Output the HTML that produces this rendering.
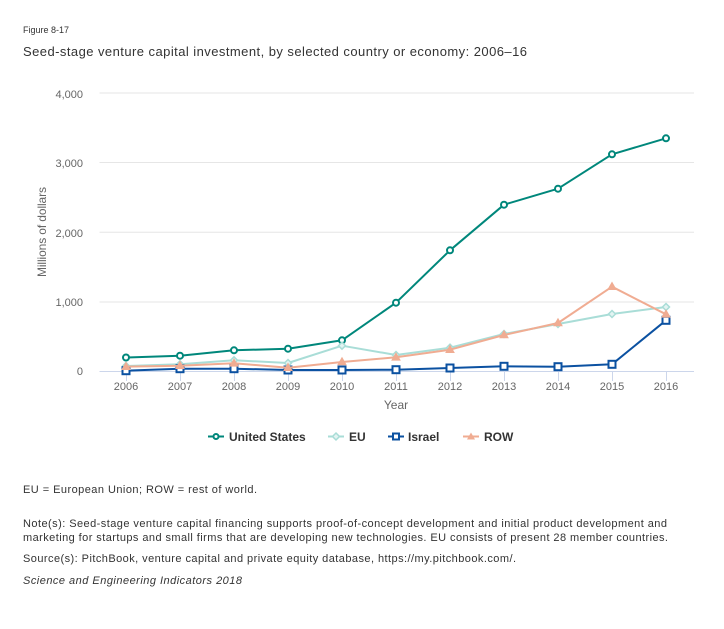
<!DOCTYPE html>
<html><head><meta charset="utf-8"><style>
html,body{margin:0;padding:0;background:#fff;}
svg{display:block;font-family:"Liberation Sans",Arial,sans-serif;}
</style></head><body>
<svg width="724" height="629" viewBox="0 0 724 629" xmlns="http://www.w3.org/2000/svg">
<rect width="724" height="629" fill="#fff"/>
<text x="23" y="33" font-size="9" fill="#333">Figure 8-17</text>
<text x="23" y="56" font-size="13" fill="#333" textLength="504">Seed-stage venture capital investment, by selected country or economy: 2006–16</text>

<!-- grid -->
<g stroke="#e6e6e6" stroke-width="1">
<line x1="99.5" y1="93" x2="694" y2="93"/>
<line x1="99.5" y1="162.5" x2="694" y2="162.5"/>
<line x1="99.5" y1="232.3" x2="694" y2="232.3"/>
<line x1="99.5" y1="302" x2="694" y2="302"/>
</g>
<line x1="99.5" y1="371.5" x2="694" y2="371.5" stroke="#ccd6eb" stroke-width="1"/>
<g stroke="#ccd6eb" stroke-width="1">
<line x1="126.5" y1="371" x2="126.5" y2="381"/>
<line x1="180.5" y1="371" x2="180.5" y2="381"/>
<line x1="234.5" y1="371" x2="234.5" y2="381"/>
<line x1="288.5" y1="371" x2="288.5" y2="381"/>
<line x1="342.5" y1="371" x2="342.5" y2="381"/>
<line x1="396.5" y1="371" x2="396.5" y2="381"/>
<line x1="450.5" y1="371" x2="450.5" y2="381"/>
<line x1="504.5" y1="371" x2="504.5" y2="381"/>
<line x1="558.5" y1="371" x2="558.5" y2="381"/>
<line x1="612.5" y1="371" x2="612.5" y2="381"/>
<line x1="666.5" y1="371" x2="666.5" y2="381"/>
</g>

<!-- y labels -->
<g font-size="11" fill="#666" text-anchor="end">
<text x="83" y="98">4,000</text>
<text x="83" y="167">3,000</text>
<text x="83" y="237">2,000</text>
<text x="83" y="306">1,000</text>
<text x="83" y="375">0</text>
</g>
<text transform="translate(46,232) rotate(-90)" text-anchor="middle" font-size="12" fill="#666" textLength="90">Millions of dollars</text>

<!-- x labels -->
<g font-size="11" fill="#666" text-anchor="middle">
<text x="126" y="390">2006</text>
<text x="180" y="390">2007</text>
<text x="234" y="390">2008</text>
<text x="288" y="390">2009</text>
<text x="342" y="390">2010</text>
<text x="396" y="390">2011</text>
<text x="450" y="390">2012</text>
<text x="504" y="390">2013</text>
<text x="558" y="390">2014</text>
<text x="612" y="390">2015</text>
<text x="666" y="390">2016</text>
</g>
<text x="396" y="409" font-size="12" fill="#666" text-anchor="middle">Year</text>

<!-- US -->
<polyline fill="none" stroke="#00877b" stroke-width="2" stroke-linejoin="round" points="126,357.5 180,355.7 234,350.3 288,348.7 342,340.3 396,302.7 450,250.3 504,204.7 558,188.7 612,154.3 666,138.3"/>
<g fill="#fff" stroke="#00877b" stroke-width="2">
<circle cx="126" cy="357.5" r="3"/><circle cx="180" cy="355.7" r="3"/><circle cx="234" cy="350.3" r="3"/><circle cx="288" cy="348.7" r="3"/><circle cx="342" cy="340.3" r="3"/><circle cx="396" cy="302.7" r="3"/><circle cx="450" cy="250.3" r="3"/><circle cx="504" cy="204.7" r="3"/><circle cx="558" cy="188.7" r="3"/><circle cx="612" cy="154.3" r="3"/><circle cx="666" cy="138.3" r="3"/>
</g>

<!-- EU -->
<polyline fill="none" stroke="#a9ddd7" stroke-width="2" stroke-linejoin="round" points="126,366 180,364.3 234,360.3 288,363 342,345.7 396,355 450,347.7 504,334 558,324 612,314 666,307"/>
<g fill="#e3f4f2" stroke="#a9ddd7" stroke-width="1.5">
<path d="M126,362.5 L129.5,366 L126,369.5 L122.5,366Z"/>
<path d="M180,360.8 L183.5,364.3 L180,367.8 L176.5,364.3Z"/>
<path d="M234,356.8 L237.5,360.3 L234,363.8 L230.5,360.3Z"/>
<path d="M288,359.5 L291.5,363 L288,366.5 L284.5,363Z"/>
<path d="M342,342.2 L345.5,345.7 L342,349.2 L338.5,345.7Z"/>
<path d="M396,351.5 L399.5,355 L396,358.5 L392.5,355Z"/>
<path d="M450,344.2 L453.5,347.7 L450,351.2 L446.5,347.7Z"/>
<path d="M504,330.5 L507.5,334 L504,337.5 L500.5,334Z"/>
<path d="M558,320.5 L561.5,324 L558,327.5 L554.5,324Z"/>
<path d="M612,310.5 L615.5,314 L612,317.5 L608.5,314Z"/>
<path d="M666,303.5 L669.5,307 L666,310.5 L662.5,307Z"/>
</g>

<!-- Israel -->
<polyline fill="none" stroke="#0b51a1" stroke-width="2" stroke-linejoin="round" points="126,370.7 180,368.7 234,368.7 288,370 342,370 396,369.7 450,368 504,366.3 558,366.7 612,364.3 666,320.3"/>
<g fill="#fff" stroke="#0b51a1" stroke-width="2">
<rect x="122.5" y="367.2" width="7" height="7"/><rect x="176.5" y="365.2" width="7" height="7"/><rect x="230.5" y="365.2" width="7" height="7"/><rect x="284.5" y="366.5" width="7" height="7"/><rect x="338.5" y="366.5" width="7" height="7"/><rect x="392.5" y="366.2" width="7" height="7"/><rect x="446.5" y="364.5" width="7" height="7"/><rect x="500.5" y="362.8" width="7" height="7"/><rect x="554.5" y="363.2" width="7" height="7"/><rect x="608.5" y="360.8" width="7" height="7"/><rect x="662.5" y="316.8" width="7" height="7"/>
</g>

<!-- ROW -->
<polyline fill="none" stroke="#f0ac92" stroke-width="2" stroke-linejoin="round" points="126,366.7 180,365.7 234,363.3 288,367.7 342,362 396,357.3 450,349.7 504,335 558,323 612,286.7 666,314.3"/>
<g fill="#f0ac92" stroke="#f0ac92" stroke-width="1">
<path d="M126,362.5 L130,369.5 L122,369.5Z"/>
<path d="M180,361.5 L184,368.5 L176,368.5Z"/>
<path d="M234,359.1 L238,366.1 L230,366.1Z"/>
<path d="M288,363.5 L292,370.5 L284,370.5Z"/>
<path d="M342,357.8 L346,364.8 L338,364.8Z"/>
<path d="M396,353.1 L400,360.1 L392,360.1Z"/>
<path d="M450,345.5 L454,352.5 L446,352.5Z"/>
<path d="M504,330.8 L508,337.8 L500,337.8Z"/>
<path d="M558,318.8 L562,325.8 L554,325.8Z"/>
<path d="M612,282.5 L616,289.5 L608,289.5Z"/>
<path d="M666,310.1 L670,317.1 L662,317.1Z"/>
</g>

<!-- legend -->
<g font-size="12" font-weight="bold" fill="#333">
<line x1="208" y1="436.5" x2="224" y2="436.5" stroke="#00877b" stroke-width="2"/>
<circle cx="216" cy="436.5" r="2.5" fill="#fff" stroke="#00877b" stroke-width="2"/>
<text x="229" y="441">United States</text>
<line x1="328" y1="436.5" x2="344" y2="436.5" stroke="#a9ddd7" stroke-width="2"/>
<path d="M336,433 L339.5,436.5 L336,440 L332.5,436.5Z" fill="#e3f4f2" stroke="#a9ddd7" stroke-width="1.5"/>
<text x="349" y="441">EU</text>
<line x1="388" y1="436.5" x2="404" y2="436.5" stroke="#0b51a1" stroke-width="2"/>
<rect x="393" y="433.5" width="6" height="6" fill="#fff" stroke="#0b51a1" stroke-width="2"/>
<text x="408" y="441">Israel</text>
<line x1="463" y1="436.5" x2="479" y2="436.5" stroke="#f0ac92" stroke-width="2"/>
<path d="M471,432.5 L475,439.5 L467,439.5Z" fill="#f0ac92"/>
<text x="484" y="441">ROW</text>
</g>

<!-- footer -->
<g font-size="11" fill="#333">
<text x="23" y="493" textLength="234">EU = European Union; ROW = rest of world.</text>
<text x="23" y="527" textLength="644">Note(s): Seed-stage venture capital financing supports proof-of-concept development and initial product development and</text>
<text x="23" y="541" textLength="645">marketing for startups and small firms that are developing new technologies. EU consists of present 28 member countries.</text>
<text x="23" y="562" textLength="493">Source(s): PitchBook, venture capital and private equity database, https://my.pitchbook.com/.</text>
<text x="23" y="584" font-style="italic" textLength="219">Science and Engineering Indicators 2018</text>
</g>
</svg>
</body></html>
